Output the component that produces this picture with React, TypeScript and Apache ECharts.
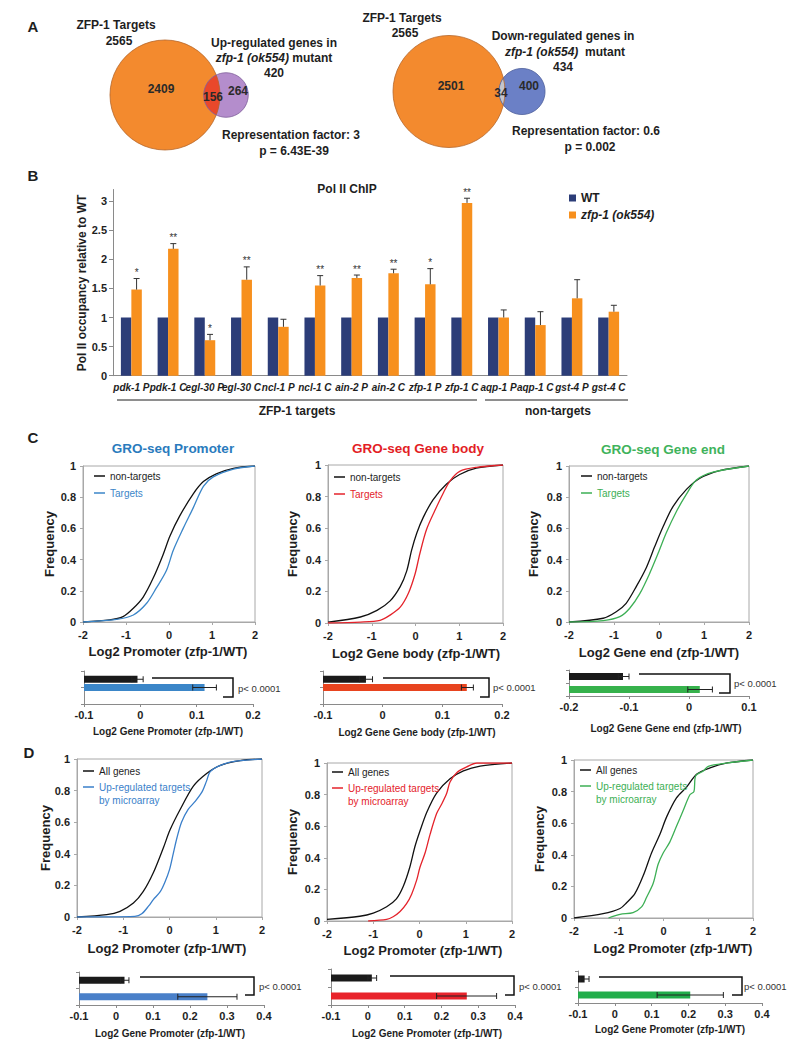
import { useEffect, useRef } from 'react';
import * as echarts from 'echarts';

const FF = '"Liberation Sans", Arial, Helvetica, sans-serif';
const INK = '#1e1e1e';

// ---------------- Panel A : Venn counts ----------------
const vennSetNames = ['ZFP-1 Targets', 'ZFP-1 Targets'];
const vennTargetTotals = [2565, 2565];
const vennTargetOnly = [2409, 2501];
const vennOverlap = [156, 34];
const vennOtherOnly = [264, 400];
const vennOtherTotals = [420, 434];
const vennOtherNames = ['Up-regulated genes in', 'Down-regulated genes in'];
const vennMutantLines = ['{i|zfp-1 (ok554)} mutant', '{i|zfp-1 (ok554)}  mutant'];
const vennFactors = ['Representation factor: 3', 'Representation factor: 0.6'];
const vennPValues = ['p = 6.43E-39', 'p = 0.002'];

// ---------------- Panel B : Pol II ChIP ----------------
const chipCategories = ['pdk-1 P', 'pdk-1 C', 'egl-30 P', 'egl-30 C', 'ncl-1 P', 'ncl-1 C', 'ain-2 P', 'ain-2 C', 'zfp-1 P', 'zfp-1 C', 'aqp-1 P', 'aqp-1 C', 'gst-4 P', 'gst-4 C'];
const chipWT = [1, 1, 1, 1, 1, 1, 1, 1, 1, 1, 1, 1, 1, 1];
const chipMutant = [1.48, 2.18, 0.61, 1.65, 0.84, 1.55, 1.68, 1.76, 1.57, 2.97, 1.0, 0.87, 1.33, 1.1];
const chipMutantErr = [0.19, 0.09, 0.1, 0.22, 0.13, 0.17, 0.05, 0.07, 0.27, 0.08, 0.13, 0.23, 0.32, 0.11];
const chipSignificance = ['*', '**', '*', '**', '', '**', '**', '**', '*', '**', '', '', '', ''];
const chipGroups = ['ZFP-1 targets', 'non-targets'];
const chipSeriesNames = ['WT', 'zfp-1 (ok554)'];

// ---------------- Panel C : GRO-seq CDFs ----------------
const promoterNonTargets = [[-2, 0], [-1.38, 0.013], [-1.07, 0.034], [-0.83, 0.088], [-0.6, 0.16], [-0.37, 0.28], [-0.14, 0.43], [0.02, 0.55], [0.25, 0.68], [0.56, 0.82], [0.8, 0.9], [1.1, 0.95], [1.5, 0.985], [2, 1]];
const promoterTargets = [[-2, 0], [-1.22, 0.017], [-0.83, 0.045], [-0.52, 0.12], [-0.29, 0.22], [-0.06, 0.33], [0.1, 0.46], [0.33, 0.6], [0.56, 0.73], [0.8, 0.87], [1.03, 0.93], [1.5, 0.98], [2, 1]];
const bodyNonTargets = [[-2, 0.005], [-1.26, 0.038], [-0.88, 0.08], [-0.58, 0.14], [-0.35, 0.23], [-0.2, 0.33], [-0.09, 0.46], [0.03, 0.57], [0.18, 0.67], [0.4, 0.78], [0.71, 0.88], [1.01, 0.94], [1.39, 0.98], [2, 1]];
const bodyTargets = [[-2, 0], [-1.26, 0.006], [-0.81, 0.017], [-0.58, 0.05], [-0.35, 0.1], [-0.16, 0.19], [-0.01, 0.31], [0.1, 0.44], [0.25, 0.59], [0.44, 0.71], [0.63, 0.82], [0.79, 0.9], [1.01, 0.96], [1.39, 0.985], [2, 1]];
const endNonTargets = [[-2, 0], [-1.24, 0.024], [-0.95, 0.066], [-0.73, 0.12], [-0.5, 0.23], [-0.28, 0.35], [-0.1, 0.48], [0.09, 0.61], [0.31, 0.74], [0.61, 0.85], [0.9, 0.92], [1.35, 0.97], [2, 1]];
const endTargets = [[-2, 0], [-1.24, 0.009], [-0.87, 0.034], [-0.65, 0.088], [-0.43, 0.18], [-0.21, 0.31], [-0.02, 0.44], [0.16, 0.57], [0.39, 0.71], [0.61, 0.82], [0.83, 0.91], [1.2, 0.96], [2, 1]];

// ---------------- Panel D : microarray CDFs ----------------
const microPromoterAll = [[-2, 0], [-1.36, 0.015], [-1.07, 0.036], [-0.78, 0.088], [-0.57, 0.16], [-0.35, 0.28], [-0.13, 0.44], [0.01, 0.55], [0.23, 0.68], [0.52, 0.83], [0.81, 0.91], [1.1, 0.96], [1.53, 0.99], [2, 1]];
const microPromoterUp = [[-2, 0], [-0.75, 0.004], [-0.6, 0.02], [-0.45, 0.07], [-0.35, 0.11], [-0.2, 0.16], [-0.1, 0.22], [0, 0.3], [0.08, 0.4], [0.16, 0.5], [0.26, 0.6], [0.4, 0.68], [0.55, 0.73], [0.7, 0.79], [0.8, 0.86], [0.88, 0.92], [1.1, 0.96], [1.4, 0.985], [2, 1]];
const microBodyAll = [[-2, 0.01], [-1.29, 0.03], [-1.0, 0.05], [-0.71, 0.09], [-0.5, 0.14], [-0.35, 0.22], [-0.21, 0.34], [-0.1, 0.47], [0.01, 0.57], [0.16, 0.69], [0.37, 0.81], [0.66, 0.9], [0.95, 0.95], [1.31, 0.98], [2, 1]];
const microBodyUp = [[-1.11, 0], [-0.71, 0.01], [-0.57, 0.027], [-0.42, 0.06], [-0.28, 0.11], [-0.17, 0.17], [-0.06, 0.26], [0.01, 0.34], [0.12, 0.43], [0.23, 0.55], [0.37, 0.68], [0.48, 0.74], [0.59, 0.81], [0.66, 0.88], [0.81, 0.94], [1.02, 0.975], [1.24, 1], [2, 1]];
const microEndAll = [[-2, 0], [-1.35, 0.027], [-0.97, 0.06], [-0.83, 0.095], [-0.64, 0.154], [-0.45, 0.27], [-0.27, 0.41], [-0.08, 0.53], [0.07, 0.64], [0.29, 0.76], [0.52, 0.83], [0.74, 0.91], [1.04, 0.95], [1.4, 0.98], [2, 1]];
const microEndUp = [[-1.23, 0], [-0.97, 0.023], [-0.68, 0.034], [-0.49, 0.07], [-0.38, 0.13], [-0.23, 0.22], [-0.12, 0.34], [-0.01, 0.41], [0.14, 0.48], [0.29, 0.58], [0.44, 0.68], [0.59, 0.78], [0.68, 0.8], [0.72, 0.9], [0.89, 0.93], [1.0, 0.96], [1.4, 0.98], [2, 1]];

// ---------------- mean bars (non-targets / all genes first, targets second) ----------------
const promoterBarMean = [-0.005, 0.114];
const promoterBarLow = [-0.015, 0.093];
const promoterBarHigh = [0.005, 0.135];
const bodyBarMean = [-0.028, 0.141];
const bodyBarLow = [-0.039, 0.132];
const bodyBarHigh = [-0.017, 0.152];
const endBarMean = [-0.11, 0.018];
const endBarLow = [-0.118, -0.002];
const endBarHigh = [-0.1, 0.039];
const microPromoterBarMean = [0.023, 0.247];
const microPromoterBarLow = [0.012, 0.167];
const microPromoterBarHigh = [0.035, 0.327];
const microBodyBarMean = [0.011, 0.269];
const microBodyBarLow = [0.0, 0.187];
const microBodyBarHigh = [0.024, 0.35];
const microEndBarMean = [-0.082, 0.205];
const microEndBarLow = [-0.094, 0.115];
const microEndBarHigh = [-0.07, 0.295];
const pValueLabel = 'p< 0.0001';

// ---------------- colors ----------------
const NAVY = '#2c3d78';
const ORANGE = '#f7901e';
const BLUE = '#3b86c8';
const RED = '#e4232b';
const GREEN = '#3daf55';

function T(x: number, y: number, text: string, o: any = {}) {
  const align = o.align || 'center';
  return {
    type: 'text', x, y, rotation: o.rotation || 0, silent: true, z: 20,
    style: {
      text, fill: o.color || INK, fontSize: o.size || 12, fontWeight: o.weight || 'bold',
      fontStyle: o.italic ? 'italic' : 'normal', fontFamily: FF,
      align, textAlign: align, verticalAlign: 'middle', textVerticalAlign: 'middle',
      rich: o.rich,
    },
  };
}
function PL(points: number[][], color = INK, width = 1) {
  return { type: 'polyline', silent: true, z: 20, shape: { points }, style: { stroke: color, lineWidth: width, fill: null } };
}

function lens(c1: number[], r1: number, c2: number[], r2: number) {
  const d = c2[0] - c1[0];
  const a = (r1 * r1 - r2 * r2 + d * d) / (2 * d);
  const h = Math.sqrt(Math.max(r1 * r1 - a * a, 0));
  const t1 = Math.atan2(h, a);
  const phi = Math.atan2(h, a - d);
  const pts: number[][] = [];
  const n = 30;
  for (let k = 0; k <= n; k++) {
    const t = -t1 + (2 * t1 * k) / n;
    pts.push([c1[0] + r1 * Math.cos(t), c1[1] + r1 * Math.sin(t)]);
  }
  for (let k = 0; k <= n; k++) {
    const t = phi + ((2 * Math.PI - 2 * phi) * k) / n;
    pts.push([c2[0] + r2 * Math.cos(t), c2[1] + r2 * Math.sin(t)]);
  }
  return pts;
}

function buildOption() {
  const grid: any[] = [];
  const xAxis: any[] = [];
  const yAxis: any[] = [];
  const series: any[] = [];
  const graphic: any[] = [];

  // Panel letters
  graphic.push(T(33, 26, 'A', { size: 15 }));
  graphic.push(T(33, 175, 'B', { size: 15 }));
  graphic.push(T(33, 437, 'C', { size: 15 }));
  graphic.push(T(29, 752, 'D', { size: 15 }));

  // ---------------- Venn diagrams ----------------
  const vennLayouts = [
    {
      c1: [165, 95], c2x: 226, k: 1.086, fillA: '#f38a2e', fillB: '#b48dcc', fillLens: '#e9482b', strokeA: '#b5662a', strokeB: '#7e5d99',
      title: [116, 25], total: [119, 41], other: [274, 43], mutant: [274, 58], otherTotal: [274, 73],
      onlyA: [161, 89], overlap: [213, 97], onlyB: [238, 91], factor: [291, 135], p: [294, 151],
    },
    {
      c1: [449, 91.5], c2x: 522, k: 1.106, fillA: '#f38a2e', fillB: '#6b80c6', fillLens: '#c4c5cc', strokeA: '#b5662a', strokeB: '#4e5f9c',
      title: [402, 18], total: [405, 33], other: [563, 36], mutant: [565, 52], otherTotal: [563, 67],
      onlyA: [451, 86], overlap: [501, 93], onlyB: [529, 86], factor: [586, 131], p: [590, 147],
    },
  ];
  vennLayouts.forEach((v, i) => {
    const r1 = v.k * Math.sqrt(vennTargetTotals[i]);
    const r2 = v.k * Math.sqrt(vennOtherTotals[i]);
    const c2 = [v.c2x, v.c1[1]];
    graphic.push({ type: 'circle', silent: true, shape: { cx: v.c1[0], cy: v.c1[1], r: r1 }, style: { fill: v.fillA, stroke: null } });
    graphic.push({ type: 'circle', silent: true, shape: { cx: c2[0], cy: c2[1], r: r2 }, style: { fill: v.fillB, stroke: null } });
    graphic.push({ type: 'polygon', silent: true, shape: { points: lens(v.c1, r1, c2, r2) }, style: { fill: v.fillLens, stroke: null } });
    graphic.push({ type: 'circle', silent: true, shape: { cx: v.c1[0], cy: v.c1[1], r: r1 }, style: { fill: null, stroke: v.strokeA, lineWidth: 0.8 } });
    graphic.push({ type: 'circle', silent: true, shape: { cx: c2[0], cy: c2[1], r: r2 }, style: { fill: null, stroke: v.strokeB, lineWidth: 0.8 } });
    graphic.push(T(v.title[0], v.title[1], vennSetNames[i]));
    graphic.push(T(v.total[0], v.total[1], String(vennTargetTotals[i])));
    graphic.push(T(v.other[0], v.other[1], vennOtherNames[i]));
    graphic.push(T(v.mutant[0], v.mutant[1], vennMutantLines[i], {
      rich: { i: { fontStyle: 'italic', fontWeight: 'bold', fontSize: 12, fontFamily: FF, fill: INK } },
    }));
    graphic.push(T(v.otherTotal[0], v.otherTotal[1], String(vennOtherTotals[i])));
    graphic.push(T(v.onlyA[0], v.onlyA[1], String(vennTargetOnly[i]), { color: '#2a2a2a' }));
    graphic.push(T(v.overlap[0], v.overlap[1], String(vennOverlap[i]), { color: '#2a2a2a' }));
    graphic.push(T(v.onlyB[0], v.onlyB[1], String(vennOtherOnly[i]), { color: '#2a2a2a' }));
    graphic.push(T(v.factor[0], v.factor[1], vennFactors[i]));
    graphic.push(T(v.p[0], v.p[1], vennPValues[i]));
  });

  // ---------------- Panel B ----------------
  const axisGray = '#8a8a8a';
  grid.push({ left: 113, top: 189.5, width: 514, height: 186.2 });
  xAxis.push({
    gridIndex: 0, type: 'category', data: chipCategories,
    axisLine: { lineStyle: { color: axisGray } },
    axisTick: { length: 4, lineStyle: { color: axisGray } },
    axisLabel: { interval: 0, hideOverlap: false, fontSize: 10, fontStyle: 'italic', fontWeight: 'bold', color: INK, fontFamily: FF, margin: 7 },
  });
  yAxis.push({
    gridIndex: 0, type: 'value', min: 0, max: 3.2, interval: 0.5,
    axisLine: { show: true, lineStyle: { color: axisGray } },
    axisTick: { show: true, length: 4, lineStyle: { color: axisGray } },
    axisLabel: { showMaxLabel: false, fontSize: 11, fontWeight: 'bold', color: INK, fontFamily: FF, margin: 6 },
    splitLine: { show: false },
  });
  series.push({ name: chipSeriesNames[0], type: 'bar', xAxisIndex: 0, yAxisIndex: 0, data: chipWT, itemStyle: { color: NAVY }, barGap: '0%', barCategoryGap: '43%' });
  series.push({ name: chipSeriesNames[1], type: 'bar', xAxisIndex: 0, yAxisIndex: 0, data: chipMutant, itemStyle: { color: ORANGE }, barGap: '0%', barCategoryGap: '43%' });
  series.push({
    type: 'custom', xAxisIndex: 0, yAxisIndex: 0, silent: true, clip: false, z: 5,
    itemStyle: { color: '#333' },
    data: chipMutant.map((v, i) => [i, v, v + chipMutantErr[i]]),
    encode: { x: 0, y: [1, 2] },
    renderItem: (params: any, api: any) => {
      const i = params.dataIndex;
      const base = api.coord([api.value(0), api.value(1)]);
      const top = api.coord([api.value(0), api.value(2)]);
      const catW = api.size([1, 0])[0];
      const bw = (catW * (1 - 0.43)) / 2;
      const x = base[0] + bw / 2;
      return {
        type: 'group',
        children: [
          { type: 'line', shape: { x1: x, y1: base[1], x2: x, y2: top[1] }, style: { stroke: '#333', lineWidth: 1 } },
          { type: 'line', shape: { x1: x - 3, y1: top[1], x2: x + 3, y2: top[1] }, style: { stroke: '#333', lineWidth: 1 } },
          {
            type: 'text', x, y: top[1] - 1,
            style: { text: chipSignificance[i], fontSize: 10, fontFamily: FF, fill: '#333', align: 'center', verticalAlign: 'bottom' },
          },
        ],
      };
    },
  });
  graphic.push(T(347, 189, 'Pol II ChIP'));
  graphic.push(T(82, 283, 'Pol II occupancy relative to WT', { rotation: Math.PI / 2 }));
  graphic.push(PL([[117, 400], [477, 400]]));
  graphic.push(PL([[485, 400], [628, 400]]));
  graphic.push(T(297, 411, chipGroups[0]));
  graphic.push(T(558, 411, chipGroups[1]));

  // ---------------- CDF panels ----------------
  const cdfPanels = [
    { g: [83, 466, 172, 156], a: promoterNonTargets, b: promoterTargets, na: 'non-targets', nb: ['Targets'], col: BLUE, titleCol: '#2a7bbd', title: 'GRO-seq Promoter', tp: [173, 448], leg: [94, 476], xt: 'Log2 Promoter (zfp-1/WT)', xtp: [168, 651], ytp: [49, 544] },
    { g: [328, 465, 175, 158], a: bodyNonTargets, b: bodyTargets, na: 'non-targets', nb: ['Targets'], col: RED, titleCol: '#e31e26', title: 'GRO-seq Gene body', tp: [418, 448], leg: [334, 477], xt: 'Log2 Gene body (zfp-1/WT)', xtp: [416, 653], ytp: [292, 544] },
    { g: [569, 466, 180, 156], a: endNonTargets, b: endTargets, na: 'non-targets', nb: ['Targets'], col: GREEN, titleCol: '#3fb35c', title: 'GRO-seq Gene end', tp: [663, 449], leg: [581, 476], xt: 'Log2 Gene end (zfp-1/WT)', xtp: [659, 652], ytp: [533, 544] },
    { g: [77, 759, 185, 158], a: microPromoterAll, b: microPromoterUp, na: 'All genes', nb: ['Up-regulated targets', 'by microarray'], col: '#3a7fca', titleCol: '', title: '', tp: [0, 0], leg: [83, 771], xt: 'Log2 Promoter (zfp-1/WT)', xtp: [167, 948], ytp: [45, 838] },
    { g: [327, 763, 185, 158], a: microBodyAll, b: microBodyUp, na: 'All genes', nb: ['Up-regulated targets', 'by microarray'], col: RED, titleCol: '', title: '', tp: [0, 0], leg: [332, 772], xt: 'Log2 Promoter (zfp-1/WT)', xtp: [423, 950], ytp: [292, 842] },
    { g: [574, 760, 179, 158], a: microEndAll, b: microEndUp, na: 'All genes', nb: ['Up-regulated targets', 'by microarray'], col: GREEN, titleCol: '', title: '', tp: [0, 0], leg: [580, 770], xt: 'Log2 Promoter (zfp-1/WT)', xtp: [673, 948], ytp: [539, 839] },
  ];
  cdfPanels.forEach((p) => {
    const gi = grid.length;
    grid.push({ left: p.g[0], top: p.g[1], width: p.g[2], height: p.g[3], show: true, borderColor: '#a8a8a8', borderWidth: 1 });
    const lbl = { fontSize: 11, fontWeight: 'bold', color: INK, fontFamily: FF, margin: 7 };
    xAxis.push({
      gridIndex: gi, type: 'value', min: -2, max: 2, interval: 1,
      axisLine: { show: true, onZero: false, lineStyle: { color: '#a8a8a8' } },
      axisTick: { show: true, length: 3, lineStyle: { color: '#a8a8a8' } },
      axisLabel: lbl, splitLine: { show: false },
    });
    yAxis.push({
      gridIndex: gi, type: 'value', min: 0, max: 1, interval: 0.2,
      axisLine: { show: true, onZero: false, lineStyle: { color: '#a8a8a8' } },
      axisTick: { show: true, length: 3, lineStyle: { color: '#a8a8a8' } },
      axisLabel: lbl, splitLine: { show: false },
    });
    series.push({ name: p.na, type: 'line', xAxisIndex: gi, yAxisIndex: gi, data: p.a, showSymbol: false, smooth: 0.3, lineStyle: { color: '#111', width: 1.3 }, itemStyle: { color: '#111' }, silent: true });
    series.push({ name: p.nb.join(' '), type: 'line', xAxisIndex: gi, yAxisIndex: gi, data: p.b, showSymbol: false, smooth: 0.3, lineStyle: { color: p.col, width: 1.3 }, itemStyle: { color: p.col }, silent: true });
    if (p.title) graphic.push(T(p.tp[0], p.tp[1], p.title, { color: p.titleCol, size: 13.5 }));
    graphic.push(T(p.xtp[0], p.xtp[1], p.xt, { size: 13 }));
    graphic.push(T(p.ytp[0], p.ytp[1], 'Frequency', { size: 13, rotation: Math.PI / 2 }));
    const [lx, ly] = p.leg;
    const gap = p.nb.length > 1 ? 16 : 17;
    graphic.push(PL([[lx, ly], [lx + 11, ly]], '#111', 1.5));
    graphic.push(T(lx + 16, ly, p.na, { align: 'left', weight: 'normal', size: 10 }));
    graphic.push(PL([[lx, ly + gap], [lx + 11, ly + gap]], p.col, 1.5));
    p.nb.forEach((t, k) => graphic.push(T(lx + 16, ly + gap + 13 * k, t, { align: 'left', weight: 'normal', size: 10, color: p.col })));
  });

  // ---------------- mean-bar panels ----------------
  const barPanels = [
    { g: [84, 671, 169, 33], min: -0.1, max: 0.2, rows: [3, 2], mean: promoterBarMean, lo: promoterBarLow, hi: promoterBarHigh, col: BLUE, br: [[152, 678], [233, 678], [233, 697], [223, 697]], pt: [238, 688], xt: 'Log2 Gene Promoter (zfp-1/WT)', xtp: [168, 731] },
    { g: [323, 671, 179, 33], min: -0.1, max: 0.2, rows: [3, 2], mean: bodyBarMean, lo: bodyBarLow, hi: bodyBarHigh, col: '#e8441f', br: [[383, 678], [489, 678], [489, 697], [480, 697]], pt: [493, 687], xt: 'Log2 Gene Gene body (zfp-1/WT)', xtp: [417, 732] },
    { g: [569, 670, 180, 26], min: -0.2, max: 0.1, rows: [3, 1], mean: endBarMean, lo: endBarLow, hi: endBarHigh, col: '#36b24c', br: [[639, 674], [730, 674], [730, 693], [719, 693]], pt: [734, 683], xt: 'Log2 Gene Gene end (zfp-1/WT)', xtp: [666, 728] },
    { g: [79, 972, 185, 33], min: -0.1, max: 0.4, rows: [3, 1], mean: microPromoterBarMean, lo: microPromoterBarLow, hi: microPromoterBarHigh, col: '#4a80c9', br: [[140, 977], [254, 977], [254, 995], [245, 995]], pt: [259, 986], xt: 'Log2 Gene Promoter (zfp-1/WT)', xtp: [170, 1033] },
    { g: [331, 969, 184, 36], min: -0.1, max: 0.4, rows: [3, 1], mean: microBodyBarMean, lo: microBodyBarLow, hi: microBodyBarHigh, col: '#e8232b', br: [[390, 976], [514, 976], [514, 995], [505, 995]], pt: [519, 986], xt: 'Log2 Gene Promoter (zfp-1/WT)', xtp: [427, 1033] },
    { g: [578, 971, 184, 32], min: -0.1, max: 0.4, rows: [3, 1], mean: microEndBarMean, lo: microEndBarLow, hi: microEndBarHigh, col: '#22ad4b', br: [[599, 977], [742, 977], [742, 995], [732, 995]], pt: [744, 986], xt: 'Log2 Gene Promoter (zfp-1/WT)', xtp: [670, 1029] },
  ];
  barPanels.forEach((p) => {
    const gi = grid.length;
    grid.push({ left: p.g[0], top: p.g[1], width: p.g[2], height: p.g[3] });
    xAxis.push({
      gridIndex: gi, type: 'value', min: p.min, max: p.max, interval: 0.1,
      axisLine: { show: true, onZero: false, lineStyle: { color: '#8a8a8a' } },
      axisTick: { show: true, length: 3, lineStyle: { color: '#8a8a8a' } },
      axisLabel: { fontSize: 11, fontWeight: 'bold', color: INK, fontFamily: FF, margin: 5 },
      splitLine: { show: false },
    });
    yAxis.push({
      gridIndex: gi, type: 'value', min: 0, max: 4, interval: 2,
      axisLine: { show: true, onZero: false, lineStyle: { color: '#8a8a8a' } },
      axisTick: { show: true, length: 3, lineStyle: { color: '#8a8a8a' } },
      axisLabel: { show: false }, splitLine: { show: false },
    });
    const colors = ['#1a1a1a', p.col];
    series.push({
      type: 'custom', xAxisIndex: gi, yAxisIndex: gi, silent: true, clip: false,
      data: p.mean.map((m, i) => [m, p.rows[i], p.lo[i], p.hi[i]]),
      encode: { x: [0, 2, 3], y: 1 },
      renderItem: (params: any, api: any) => {
        const i = params.dataIndex;
        const r = api.value(1);
        const s = api.coord([p.min, r]);
        const e = api.coord([api.value(0), r]);
        const a = api.coord([api.value(2), r]);
        const b = api.coord([api.value(3), r]);
        const y = s[1];
        const h = 7;
        const st = { stroke: '#222', lineWidth: 1 };
        return {
          type: 'group',
          children: [
            { type: 'rect', shape: { x: s[0], y: y - h / 2, width: e[0] - s[0], height: h }, style: { fill: colors[i] } },
            { type: 'line', shape: { x1: a[0], y1: y, x2: b[0], y2: y }, style: st },
            { type: 'line', shape: { x1: a[0], y1: y - 3, x2: a[0], y2: y + 3 }, style: st },
            { type: 'line', shape: { x1: b[0], y1: y - 3, x2: b[0], y2: y + 3 }, style: st },
          ],
        };
      },
    });
    graphic.push(PL(p.br, '#111', 1.5));
    graphic.push(T(p.pt[0], p.pt[1], pValueLabel, { align: 'left', weight: 'normal', size: 9.5, color: '#333' }));
    graphic.push(T(p.xtp[0], p.xtp[1], p.xt, { size: 10 }));
  });

  return {
    animation: false,
    backgroundColor: '#ffffff',
    textStyle: { fontFamily: FF },
    legend: {
      data: [{ name: chipSeriesNames[0] }, { name: chipSeriesNames[1], textStyle: { fontStyle: 'italic' } }],
      left: 564, top: 187, orient: 'vertical', itemWidth: 7, itemHeight: 7, itemGap: 5, icon: 'rect',
      selectedMode: false,
      textStyle: { fontSize: 12, fontWeight: 'bold', color: INK, fontFamily: FF },
    },
    grid, xAxis, yAxis, series, graphic,
  };
}

export default function App() {
  const ref = useRef<HTMLDivElement>(null);
  useEffect(() => {
    const chart = echarts.init(ref.current!, null, { renderer: 'svg' });
    chart.setOption(buildOption() as any);
    return () => chart.dispose();
  }, []);
  return <div ref={ref} style={{ position: 'absolute', left: 0, top: 0, width: 793, height: 1048, background: '#fff' }} />;
}
